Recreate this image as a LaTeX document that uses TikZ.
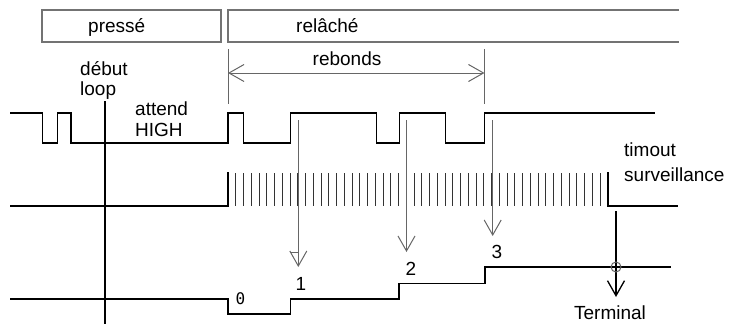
\documentclass[tikz,border=0pt]{standalone}
\usepackage{fontspec}
\setmainfont{Liberation Sans}
\newfontfamily\zeromono{DejaVu Sans Mono}
\usetikzlibrary{arrows.meta}

\begin{document}
\begin{tikzpicture}[x=1pt,y=-1pt,
  sig/.style={line width=1.6pt, line join=miter, line cap=rect},
  frame/.style={draw=black!55, line width=1.4pt},
  guide/.style={draw=black!60, line width=1pt},
  tick/.style={draw=black!80, line width=0.9pt},
  barb/.style={-{Straight Barb[length=15pt,width=17pt]}},
  lbl/.style={font=\fontsize{19}{22}\selectfont, inner sep=0pt, anchor=base west},
  num/.style={font=\fontsize{19}{22}\selectfont, inner sep=0pt, anchor=base}]
\useasboundingbox (0,0) rectangle (734,324);

% phase boxes
\draw[frame] (42,10) rectangle (221,42);
\draw[frame] (679,10) -- (228,10) -- (228,42) -- (679,42);
\node[lbl] (presse) at (88,32.5) {pressé};
\node[lbl] (relache) at (296,32.5) {relâché};

% bounce interval
\coordinate (rbL) at (228,73);
\coordinate (rbR) at (484.5,73);
\draw[guide] (228,49) -- (228,104);
\draw[guide] (484.5,49) -- (484.5,104);
\draw[guide, {Straight Barb[length=15pt,width=17pt]}-{Straight Barb[length=15pt,width=17pt]}] (rbL) -- (rbR);
\node[lbl] (rebonds) at (312.5,65) {rebonds};

% labels on the left
\node[lbl] (debut) at (80,75) {début};
\node[lbl] (loop) at (80,95) {loop};
\node[lbl] (attend) at (135,115) {attend};
\node[lbl] (high) at (135,136.7) {HIGH};

% start of loop marker
\draw[sig] (105,102) -- (105,324);

% button signal
\draw[sig] (11,113) -- (42.5,113) -- (42.5,143) -- (57.5,143) -- (57.5,113)
  -- (71,113) -- (71,143) -- (228,143) -- (228,113) -- (243.5,113)
  -- (243.5,143) -- (290.5,143) -- (290.5,113) -- (376.5,113) -- (376.5,143)
  -- (399.5,143) -- (399.5,113) -- (445.5,113) -- (445.5,143) -- (484.5,143)
  -- (484.5,113) -- (654,113);

% surveillance clock
\draw[sig] (11,205.7) -- (228,205.7) -- (228,173);
\foreach \k in {1,...,48} \draw[tick] (228+7.75*\k,173) -- ++(0,32.5);
\draw[sig] (607.75,173) -- (607.75,205.7) -- (677,205.7);
\node[lbl] (timout) at (624,156.7) {timout};
\node[lbl] (surv) at (624,181.7) {surveillance};

% counter
\draw[sig] (11,299) -- (228,299) -- (228,314) -- (290.5,314) -- (290.5,299)
  -- (399,299) -- (399,283.3) -- (485,283.3) -- (485,267) -- (670,267);
\node[inner sep=0pt, anchor=base, font=\zeromono\fontsize{16}{18}\selectfont] (c0) at (240.5,304.5) {0};
\node[num] (c1) at (301,290) {1};
\node[num] (c2) at (411,275) {2};
\node[num] (c3) at (497,258.3) {3};

% edge detections
\coordinate (e1) at (298.3,120);
\coordinate (e2) at (406.5,120);
\coordinate (e3) at (492.7,120);
\coordinate (t1) at (298.3,267);
\coordinate (t2) at (406.5,252);
\coordinate (t3) at (492.7,236);
\draw[guide, barb] (e1) -- (t1);
\draw[guide] (290.5,252) -- (298.3,252);
\draw[guide, barb] (e2) -- (t2);
\draw[guide, barb] (e3) -- (t3);

% timeout ends the loop
\coordinate (to) at (616,211);
\coordinate (te) at (616,297);
\draw[line width=1.3pt, barb] (to) -- (te);
\draw[guide] (616,267) circle (5);
\node[num] (term) at (610,319.5) {Terminal};
\end{tikzpicture}
\end{document}
